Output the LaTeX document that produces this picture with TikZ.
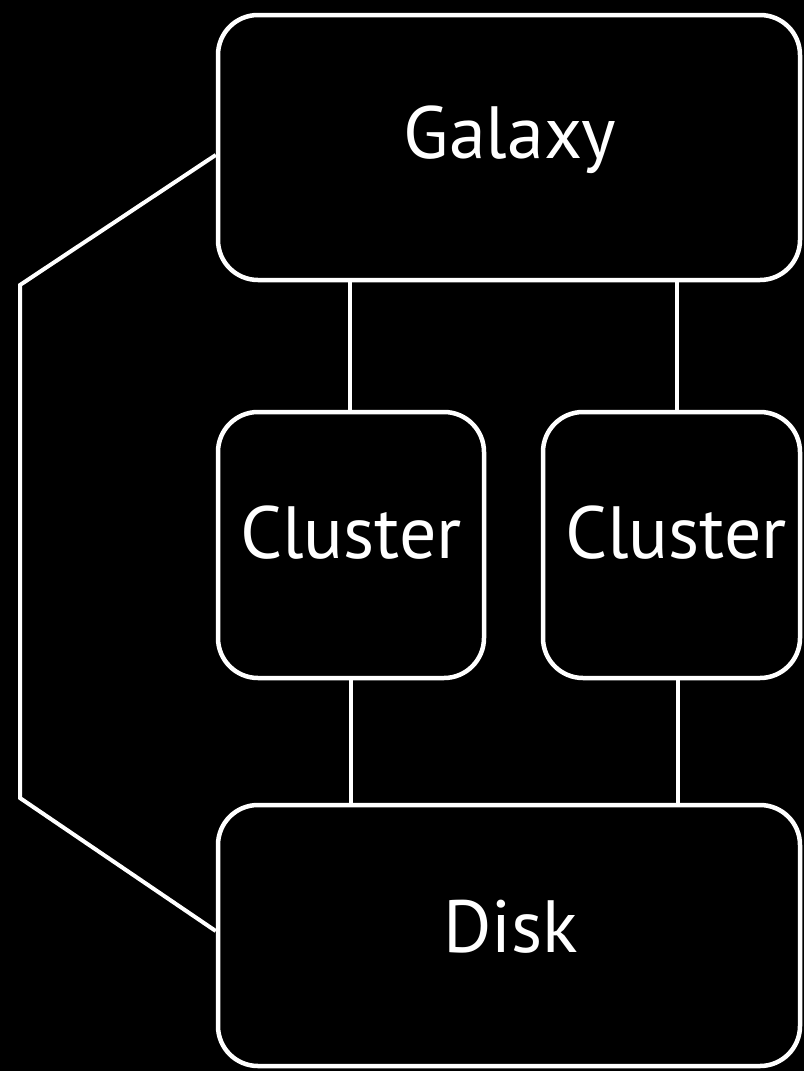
\documentclass[tikz,border=0pt]{standalone}
\usepackage{fontspec}
\setmainfont{PT Sans}
\begin{document}
\begin{tikzpicture}[x=1pt,y=-1pt,
  box/.style={draw=white,line width=4.5pt,rounded corners=40pt,text=white,
    inner sep=0pt},
  lbl/.style={text=white,font=\fontsize{74}{80}\selectfont},
  link/.style={draw=white,line width=4pt}]
\fill[black] (0,0) rectangle (804,1071);
\useasboundingbox (0,0) rectangle (804,1071);
\node[box,minimum width=582pt,minimum height=265pt] (galaxy) at (509,147.5) {};
\node[lbl] (tgalaxy) at (510,140) {Galaxy};
\node[box,minimum width=266pt,minimum height=266pt] (c1) at (351,545) {};
\node[lbl] (tc1) at (351,533) {Cluster};
\node[box,minimum width=257pt,minimum height=266pt] (c2) at (671.5,545) {};
\node[lbl] (tc2) at (676,533) {Cluster};
\node[box,minimum width=582pt,minimum height=261pt] (disk) at (509,935.5) {};
\node[lbl] (tdisk) at (511,927) {Disk};
\draw[link] ([xshift=-159pt]galaxy.south) -- ([xshift=-1pt]c1.north);
\draw[link] ([xshift=168pt]galaxy.south) -- ([xshift=5.5pt]c2.north);
\draw[link] (c1.south) -- ([xshift=-158pt]disk.north);
\draw[link] ([xshift=6.5pt]c2.south) -- ([xshift=169pt]disk.north);
\coordinate (pt) at (20,285);
\coordinate (pb) at (20,798);
\draw[link,line join=miter] ([yshift=-7.5pt]galaxy.west) -- (pt) -- (pb) -- ([yshift=4.5pt]disk.west);
\end{tikzpicture}
\end{document}
